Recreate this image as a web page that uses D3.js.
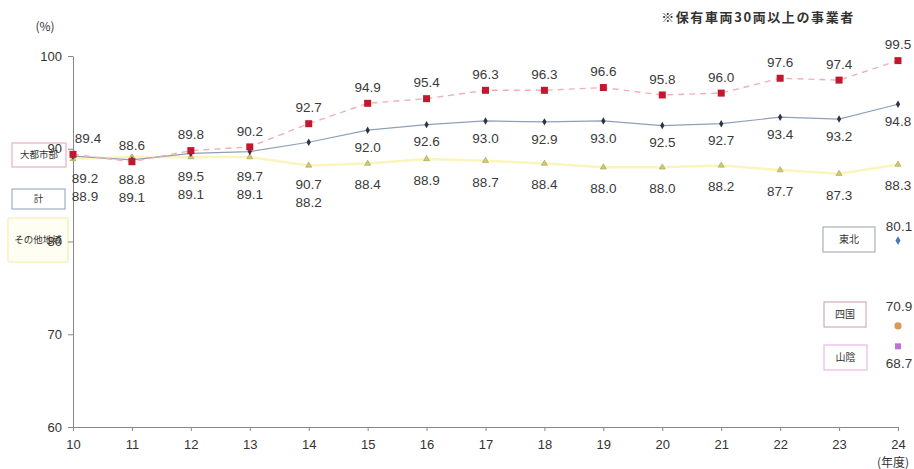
<!DOCTYPE html>
<html>
<head>
<meta charset="utf-8">
<script src="https://cdn.jsdelivr.net/npm/d3@7"></script>
<style>
  body { margin: 0; background: #fff; }
  svg { display: block; }
  .num { font-family: "Liberation Sans", Arial, sans-serif; font-size: 13.5px; fill: #3a3a3a; }
  .jp { font-family: "Noto Sans CJK JP", sans-serif; }
  .axis text { font-family: "Liberation Sans", Arial, sans-serif; font-size: 13px; fill: #333; }
  .axis path, .axis line { stroke: #888; }
</style>
</head>
<body>
<script>
"use strict"

// 年度
var years = [10, 11, 12, 13, 14, 15, 16, 17, 18, 19, 20, 21, 22, 23, 24];

// 大都市部
var metro = [89.4, 88.6, 89.8, 90.2, 92.7, 94.9, 95.4, 96.3, 96.3, 96.6, 95.8, 96.0, 97.6, 97.4, 99.5];
// 計
var total = [89.2, 88.8, 89.5, 89.7, 90.7, 92.0, 92.6, 93.0, 92.9, 93.0, 92.5, 92.7, 93.4, 93.2, 94.8];
// その他地域
var other = [88.9, 89.1, 89.1, 89.1, 88.2, 88.4, 88.9, 88.7, 88.4, 88.0, 88.0, 88.2, 87.7, 87.3, 88.3];

// 24年度だけの地域
var regionNames = ["東北", "四国", "山陰"];
var regionValues = [80.1, 70.9, 68.7];

var yTicks = [60, 70, 80, 90, 100];

var width = 914, height = 469;

var svg = d3.select("body").append("svg")
    .attr("width", width)
    .attr("height", height);

var x = d3.scaleLinear().domain([10, 24]).range([73, 898]);
var y = d3.scaleLinear().domain([60, 100]).range([427, 56]);

// left legend boxes (drawn first, the axis labels sit on top of them)
var leftKeys = [
    { name: "大都市部", border: "#e8a0a8", fill: "#fff", x: 12, y: 143, w: 54, h: 24 },
    { name: "計", border: "#8aa0bb", fill: "#fff", x: 12, y: 189, w: 53, h: 20 },
    { name: "その他地域", border: "#f4eea0", fill: "#fffef2", x: 8, y: 218, w: 60, h: 44 }
];

var lg = svg.append("g").attr("class", "legend");
lg.selectAll("rect")
    .data(leftKeys).enter()
    .append("rect")
    .attr("x", function (d) { return d.x; })
    .attr("y", function (d) { return d.y; })
    .attr("width", function (d) { return d.w; })
    .attr("height", function (d) { return d.h; })
    .attr("fill", function (d) { return d.fill; })
    .attr("stroke", function (d) { return d.border; });
lg.selectAll("text")
    .data(leftKeys).enter()
    .append("text")
    .attr("class", "jp")
    .attr("x", function (d) { return d.x + d.w / 2; })
    .attr("y", function (d) { return d.y + d.h / 2; })
    .attr("dy", "0.35em")
    .attr("text-anchor", "middle")
    .style("font-size", "9.5px").style("fill", "#333")
    .text(function (d) { return d.name; });

// Axes
svg.append("g")
    .attr("class", "axis")
    .attr("transform", "translate(" + x(10) + ",0)")
    .call(d3.axisLeft(y).tickValues(yTicks).tickSize(5).tickSizeOuter(0).tickPadding(6));

svg.append("g")
    .attr("class", "axis")
    .attr("transform", "translate(0," + y(60) + ")")
    .call(d3.axisBottom(x).tickValues(years).tickSize(4).tickSizeOuter(0).tickPadding(9)
        .tickFormat(d3.format("d")));

svg.append("text")
    .attr("class", "jp")
    .attr("x", 45).attr("y", 31)
    .attr("text-anchor", "middle")
    .style("font-size", "12px").style("fill", "#333")
    .text("(%)");

svg.append("text")
    .attr("class", "jp")
    .attr("x", 893).attr("y", 467)
    .attr("text-anchor", "middle")
    .style("font-size", "12px").style("fill", "#333")
    .text("(年度)");

svg.append("text")
    .attr("class", "jp")
    .attr("x", 758).attr("y", 22)
    .attr("text-anchor", "middle")
    .style("font-size", "13px").style("font-weight", "bold").style("fill", "#333")
    .style("letter-spacing", "1.6px")
    .text("※保有車両30両以上の事業者");

function series(vals) {
    return vals.map(function (v, i) { return { year: years[i], value: v }; });
}

var line = d3.line()
    .x(function (d) { return x(d.year); })
    .y(function (d) { return y(d.value); });

var otherData = series(other), totalData = series(total), metroData = series(metro);

// その他地域
svg.append("path")
    .datum(otherData)
    .attr("fill", "none")
    .attr("stroke", "#faf5bd")
    .attr("stroke-width", 2.5)
    .attr("d", line);

// 計
svg.append("path")
    .datum(totalData)
    .attr("fill", "none")
    .attr("stroke", "#8ea0b8")
    .attr("stroke-width", 1.2)
    .attr("d", line);

// 大都市部
svg.append("path")
    .datum(metroData)
    .attr("fill", "none")
    .attr("stroke", "#f2b0b4")
    .attr("stroke-width", 1.4)
    .attr("stroke-dasharray", "6,5")
    .attr("d", line);

// markers
svg.selectAll("path.tri")
    .data(otherData).enter()
    .append("path")
    .attr("class", "tri")
    .attr("d", d3.symbol().type(d3.symbolTriangle).size(16))
    .attr("transform", function (d) { return "translate(" + x(d.year) + "," + y(d.value) + ")"; })
    .attr("fill", "#d2c874")
    .attr("stroke", "#9a9440")
    .attr("stroke-width", 0.5);

svg.selectAll("path.dia")
    .data(totalData).enter()
    .append("path")
    .attr("class", "dia")
    .attr("d", d3.symbol().type(d3.symbolDiamond).size(16))
    .attr("transform", function (d) { return "translate(" + x(d.year) + "," + y(d.value) + ")"; })
    .attr("fill", "#2d3340");

svg.selectAll("rect.sq")
    .data(metroData).enter()
    .append("rect")
    .attr("class", "sq")
    .attr("x", function (d) { return x(d.year) - 3.5; })
    .attr("y", function (d) { return y(d.value) - 3.5; })
    .attr("width", 7).attr("height", 7)
    .attr("fill", "#c2182f");

// labels: 計 / その他 move below the yellow line when the two lines are close
var labelY = years.map(function (yr, i) {
    var yt = y(total[i]), yo = y(other[i]);
    if (yo - yt < 25) {
        return { total: Math.max(yt, yo) + 19, other: Math.max(yt, yo) + 37 };
    }
    return { total: yt + 17, other: yo + 21 };
});

svg.selectAll("text.lm")
    .data(metroData).enter()
    .append("text")
    .attr("class", "num")
    .attr("x", function (d, i) { return i === 0 ? x(d.year) + 15 : x(d.year); })
    .attr("y", function (d) { return y(d.value) - 16; })
    .attr("dy", "0.35em")
    .attr("text-anchor", "middle")
    .text(function (d) { return d.value.toFixed(1); });

svg.selectAll("text.lt")
    .data(totalData).enter()
    .append("text")
    .attr("class", "num")
    .attr("x", function (d, i) { return i === 0 ? x(d.year) + 12 : x(d.year); })
    .attr("y", function (d, i) { return labelY[i].total; })
    .attr("dy", "0.35em")
    .attr("text-anchor", "middle")
    .text(function (d) { return d.value.toFixed(1); });

svg.selectAll("text.lo")
    .data(otherData).enter()
    .append("text")
    .attr("class", "num")
    .attr("x", function (d, i) { return i === 0 ? x(d.year) + 12 : x(d.year); })
    .attr("y", function (d, i) { return labelY[i].other; })
    .attr("dy", "0.35em")
    .attr("text-anchor", "middle")
    .text(function (d) { return d.value.toFixed(1); });

// right side single points (24年度)
var rightKeys = [
    { box: [823, 227, 52, 25], border: "#9aa0aa", labelDy: -14, color: "#4a78b8", shape: d3.symbolDiamond, size: 22 },
    { box: [824, 302, 42, 25], border: "#c8a0a8", labelDy: -20, color: "#d89a50", shape: d3.symbolCircle, size: 40 },
    { box: [824, 345, 43, 25], border: "#e8a8e8", labelDy: 17, color: "#c070d8", shape: d3.symbolSquare, size: 36 }
];

var rg = svg.append("g");
rightKeys.forEach(function (k, i) {
    rg.append("rect")
        .attr("x", k.box[0]).attr("y", k.box[1])
        .attr("width", k.box[2]).attr("height", k.box[3])
        .attr("fill", "#fff").attr("stroke", k.border);
    rg.append("text")
        .attr("class", "jp")
        .attr("x", k.box[0] + k.box[2] / 2).attr("y", k.box[1] + k.box[3] / 2)
        .attr("dy", "0.35em").attr("text-anchor", "middle")
        .style("font-size", "10px").style("fill", "#333")
        .text(regionNames[i]);
    rg.append("path")
        .attr("d", d3.symbol().type(k.shape).size(k.size))
        .attr("transform", "translate(" + x(24) + "," + y(regionValues[i]) + ")")
        .attr("fill", k.color);
    rg.append("text")
        .attr("class", "num")
        .attr("x", x(24) + 1).attr("y", y(regionValues[i]) + k.labelDy)
        .attr("dy", "0.35em").attr("text-anchor", "middle")
        .text(regionValues[i].toFixed(1));
});
</script>
</body>
</html>
